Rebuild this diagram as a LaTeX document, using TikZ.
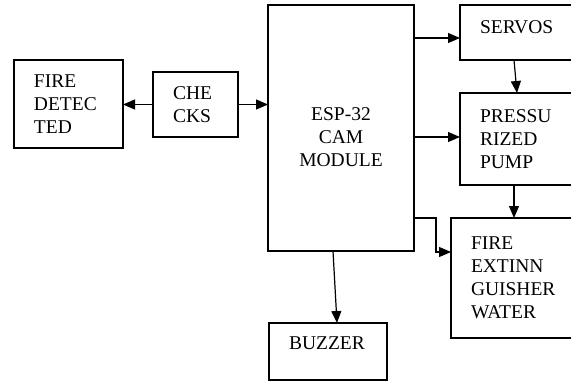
\documentclass[tikz,border=0pt]{standalone}
\usepackage{fontspec}
\setmainfont{Liberation Serif}
\usetikzlibrary{arrows.meta, calc}
\hyphenpenalty=10000

\begin{document}
\begin{tikzpicture}[
    x=1pt, y=-1pt,
    block/.style={draw, line width=1.2pt, anchor=north west, inner xsep=20pt, inner ysep=0pt, outer sep=0pt, align=left, font=\fontsize{19.5}{23}\selectfont},
    arrow/.style={-{Triangle[length=12pt, width=10pt]}, line width=1.2pt}
]
\useasboundingbox (0,0) rectangle (571,381);
\clip (0,0) rectangle (571,381);

% left side
\node[block, minimum width=109pt, minimum height=88pt, text width=69pt] (fire) at (14,60) {FIRE\\DETEC\\TED};
\node[block, minimum width=85pt, minimum height=65pt, text width=45pt] (checks) at (153,72) {CHE\\CKS};

% controller
\node[block, minimum width=146pt, minimum height=246pt, text width=106pt, align=center] (esp) at (268,5) {\mbox{}\\[8.5pt]ESP-32\\CAM\\MODULE};
\node[block, minimum width=118pt, minimum height=57pt, text width=78pt, text depth=16pt] (buzzer) at (269,323) {BUZZER};

% right side
\node[block, minimum width=125pt, minimum height=55pt, text width=85pt, text depth=11pt] (servos) at (460,5) {SERVOS};
\node[block, minimum width=125pt, minimum height=92pt, text width=85pt] (pump) at (460,93) {PRESSU\\RIZED\\PUMP};
\node[block, minimum width=134pt, minimum height=120pt, text width=94pt] (ext) at (451,218) {FIRE\\EXTINN\\GUISHER\\WATER};

\draw[arrow] (checks.west) -- (checks.west -| fire.east);
\draw[arrow] (checks.east) -- (checks.east -| esp.west);
\draw[arrow] ($(esp.north east)+(0,33)$) -- ($(servos.north west)+(0,33)$);
\draw[arrow] ($(esp.north east)+(0,132)$) -- ($(pump.north west)+(0,44)$);
\draw[arrow] ($(servos.south west)+(54,0)$) -- ($(pump.north west)+(57,0)$);
\draw[arrow] ($(pump.south west)+(54,0)$) -- ($(ext.north west)+(63,0)$);
\draw[arrow] ($(esp.north east)+(0,213)$) -- ++(22,0) |- ($(ext.north west)+(0,34)$);
\draw[arrow] ($(esp.south west)+(65,0)$) -- ($(buzzer.north west)+(68,0)$);

\end{tikzpicture}
\end{document}
